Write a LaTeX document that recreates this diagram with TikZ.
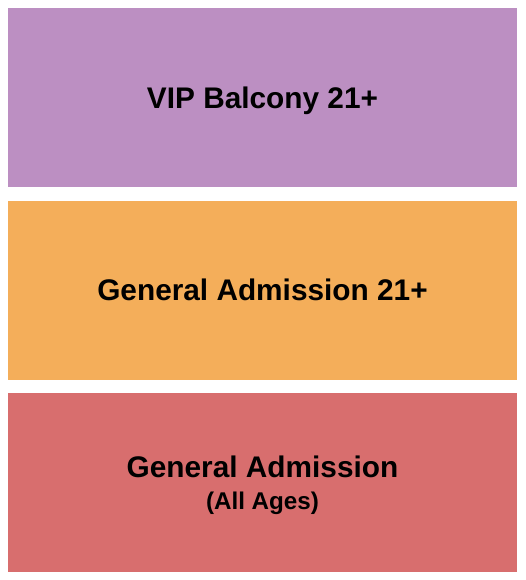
\documentclass[tikz,border=0pt]{standalone}
\usepackage{fontspec}
\setmainfont{Liberation Sans}
\definecolor{vipc}{RGB}{188,143,194}
\definecolor{ga21c}{RGB}{244,174,90}
\definecolor{gac}{RGB}{216,110,110}
\begin{document}
\begin{tikzpicture}[x=1pt,y=-1pt,
  biglabel/.style={anchor=base,inner sep=0pt,font=\fontsize{29.8}{34}\selectfont\bfseries},
  smalllabel/.style={anchor=base,inner sep=0pt,font=\fontsize{24.2}{28}\selectfont\bfseries}]
\useasboundingbox (0,0) rectangle (525,580);
\fill[vipc] (8,8) rectangle (517,187);
\fill[ga21c] (8,201) rectangle (517,380);
\fill[gac] (8,393) rectangle (517,572);
\node[biglabel] (vip) at (262.5,109) {VIP Balcony 21+};
\node[biglabel] (ga21) at (262.5,300) {General Admission 21+};
\node[biglabel] (ga) at (262.5,477) {General Admission};
\node[smalllabel] (ages) at (262.5,509) {(All Ages)};
\end{tikzpicture}
\end{document}
